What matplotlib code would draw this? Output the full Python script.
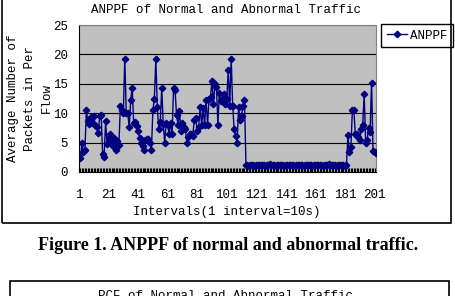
import numpy as np
import matplotlib
matplotlib.use("Agg")
import matplotlib.pyplot as plt
from matplotlib.patches import Rectangle

# ANPPF per 10s interval: normal traffic, attack (flat), normal again
normal_before = [2.6, 2.4, 4.9, 3.4, 3.8, 10.5, 8.6, 8.2, 9.4, 8.3,
                 9.5, 8.0, 7.6, 6.6, 9.5, 9.7, 3.0, 2.6, 8.6, 4.8,
                 5.8, 6.4, 5.2, 4.5, 5.8, 3.8, 5.2, 4.6, 11.3, 10.5,
                 10.0, 19.3, 10.0, 10.0, 7.6, 12.3, 14.3, 8.4, 8.5, 7.8,
                 7.0, 5.8, 5.0, 4.4, 3.8, 5.4, 5.6, 5.6, 5.0, 3.8,
                 10.5, 12.5, 19.2, 11.0, 7.3, 8.5, 14.3, 8.2, 5.0, 8.4,
                 8.0, 6.5, 8.4, 6.5, 14.3, 14.0, 9.7, 8.0, 10.3, 7.0,
                 8.4, 7.7, 7.3, 5.0, 6.0, 6.5, 6.4, 6.2, 8.8, 9.2,
                 7.0, 7.7, 11.0, 8.0, 10.8, 8.0, 12.3, 8.0, 12.5, 12.8,
                 15.5, 11.5, 15.0, 14.5, 8.0, 13.5, 12.0, 12.5, 13.3, 11.5,
                 12.5, 17.3, 11.3, 19.3, 11.3, 7.3, 6.2, 5.0, 11.0, 8.8,
                 9.6, 11.3, 12.2]
abnormal = [1.2, 1.2, 1.1, 1.2, 1.2, 1.2, 1.1, 1.2, 1.2, 1.2,
            1.2, 1.2, 1.2, 1.1, 1.2, 1.2, 1.3, 1.2, 1.2, 1.2,
            1.1, 1.2, 1.2, 1.2, 1.2, 1.2, 1.1, 1.2, 1.2, 1.2,
            1.2, 1.2, 1.2, 1.1, 1.2, 1.2, 1.2, 1.2, 1.2, 1.1,
            1.2, 1.2, 1.2, 1.2, 1.2, 1.1, 1.2, 1.2, 1.2, 1.2,
            1.2, 1.2, 1.1, 1.2, 1.2, 1.2, 1.3, 1.2, 1.2, 1.2,
            1.2, 1.1, 1.2, 1.2, 1.2, 1.2, 1.2, 1.1, 1.2]
normal_after = [6.3, 3.4, 4.2, 10.5, 10.5, 6.5, 6.5, 6.0, 5.5, 7.3,
                8.0, 13.3, 4.9, 5.5, 7.5, 6.8, 15.2, 3.5, 3.4, 3.3]

anppf = normal_before + abnormal + normal_after
xtick_labels = [1, 21, 41, 61, 81, 101, 121, 141, 161, 181, 201]
yticks = [0, 5, 10, 15, 20, 25]

W, H = 456, 296
MONO = "Liberation Mono"


def fx(x):
    return x / W


def fy(y):
    return 1 - y / H


fig = plt.figure(figsize=(W / 100, H / 100), dpi=100)
fig.patch.set_facecolor("white")

ax = fig.add_axes([fx(79), fy(172), fx(376) - fx(79), fy(25) - fy(172)])
ax.set_facecolor("#C0C0C0")

x = np.arange(1, len(anppf) + 1)
ax.plot(x, anppf, color="#000080", lw=1.0, marker="D", ms=3.3,
        mfc="#000080", mec="#000080", label="ANPPF", zorder=3)

ax.set_xlim(1, len(anppf))
ax.set_ylim(0, 25)
ax.set_yticks(yticks)
ax.set_xticks(xtick_labels)
ax.set_xticks(x, minor=True)
ax.set_xticklabels([str(v) for v in xtick_labels])
ax.tick_params(axis="x", which="both", direction="in", length=3, width=0.8,
               color="black", pad=12)
ax.tick_params(axis="y", length=0, pad=8)
for lab in ax.get_xticklabels() + ax.get_yticklabels():
    lab.set_fontfamily(MONO)
    lab.set_fontsize(9)
ax.grid(axis="y", color="black", lw=0.8)
ax.set_axisbelow(True)
ax.spines["left"].set_color("black")
ax.spines["bottom"].set_color("black")
ax.spines["top"].set_color("#808080")
ax.spines["right"].set_color("#808080")

fig.text(fx(226), fy(10), "ANPPF of Normal and Abnormal Traffic",
         family=MONO, fontsize=9, ha="center", va="center")
fig.text(fx(226.5), fy(212), "Intervals(1 interval=10s)",
         family=MONO, fontsize=9, ha="center", va="center")
fig.text(fx(30), fy(98), "Average Number of\nPackets in Per\nFlow",
         family=MONO, fontsize=9, ha="center", va="center", rotation=90,
         multialignment="center", linespacing=1.5)

leg = ax.legend(loc="upper left", bbox_to_anchor=(fx(381), fy(24)),
                bbox_transform=fig.transFigure, borderaxespad=0,
                borderpad=0.45, handlelength=1.6, handletextpad=0.3,
                fancybox=False, framealpha=1, prop={"family": MONO, "size": 9})
leg.get_frame().set_edgecolor("black")
leg.get_frame().set_linewidth(1.0)

# chart border (top edge is above the crop)
fig.add_artist(Rectangle((fx(2), fy(223)), fx(451) - fx(2), fy(-10) - fy(223),
                         transform=fig.transFigure, fill=False,
                         edgecolor="black", lw=1.2))

fig.text(0.5, fy(245), "Figure 1. ANPPF of normal and abnormal traffic.",
         family="Liberation Serif", fontweight="bold", fontsize=13,
         ha="center", va="center")

# next chart, cut off by the bottom of the page crop
fig.add_artist(Rectangle((fx(10), fy(310)), fx(449) - fx(10), fy(281) - fy(310),
                         transform=fig.transFigure, fill=False,
                         edgecolor="black", lw=1.2))
fig.text(fx(226), fy(290), "PCF of Normal and Abnormal Traffic",
         family=MONO, fontsize=9, ha="center", va="top")

fig.savefig("out.png", dpi=100)
